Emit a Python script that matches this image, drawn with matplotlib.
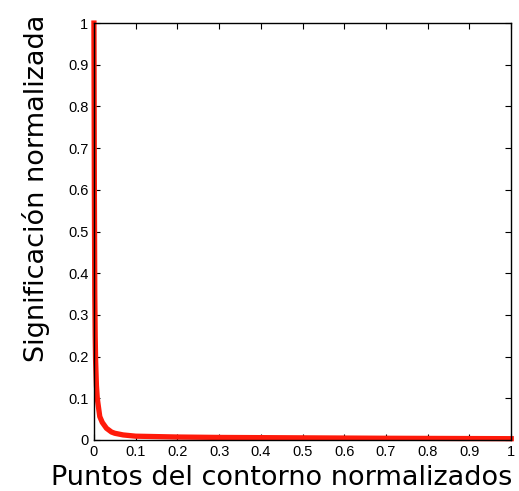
import matplotlib
matplotlib.use("Agg")
import matplotlib.pyplot as plt

x_vals = [0, 0.001, 0.002, 0.003, 0.004, 0.006, 0.008, 0.01, 0.014, 0.02, 0.03, 0.042, 0.05, 0.07, 0.1, 0.2, 0.3, 0.5, 0.7, 1.0]
y_vals = [1.0, 0.6, 0.35, 0.25, 0.19, 0.13, 0.1, 0.085, 0.056, 0.042, 0.028, 0.019, 0.016, 0.012, 0.009, 0.007, 0.006, 0.005, 0.004, 0.003]
ticks = [0, 0.1, 0.2, 0.3, 0.4, 0.5, 0.6, 0.7, 0.8, 0.9, 1]
tick_labels = ["0", "0.1", "0.2", "0.3", "0.4", "0.5", "0.6", "0.7", "0.8", "0.9", "1"]

fig = plt.figure(figsize=(5.19, 4.91), dpi=100)
ax = fig.add_axes([0.181, 0.104, 0.804, 0.849])
ax.plot(x_vals, y_vals, color="#ff1a0a", lw=3.8, solid_joinstyle="round", clip_on=False)
ax.set_xlim(0, 1)
ax.set_ylim(0, 1)
ax.set_xticks(ticks)
ax.set_yticks(ticks)
ax.set_xticklabels(tick_labels, family="Liberation Sans", fontsize=10.5)
ax.set_yticklabels(tick_labels, family="Liberation Sans", fontsize=10.5)
ax.tick_params(direction="in", length=4, width=0.8, top=True, right=True, pad=4)
for s in ax.spines.values():
    s.set_linewidth(1.0)
ax.set_xlabel("Puntos del contorno normalizados", family="DejaVu Sans", fontsize=19.5)
ax.set_ylabel("Significación normalizada", family="DejaVu Sans", fontsize=19.5)
ax.xaxis.set_label_coords(0.451, -0.06)
ax.yaxis.set_label_coords(-0.105, 0.604)
fig.savefig("out.png", dpi=100)
